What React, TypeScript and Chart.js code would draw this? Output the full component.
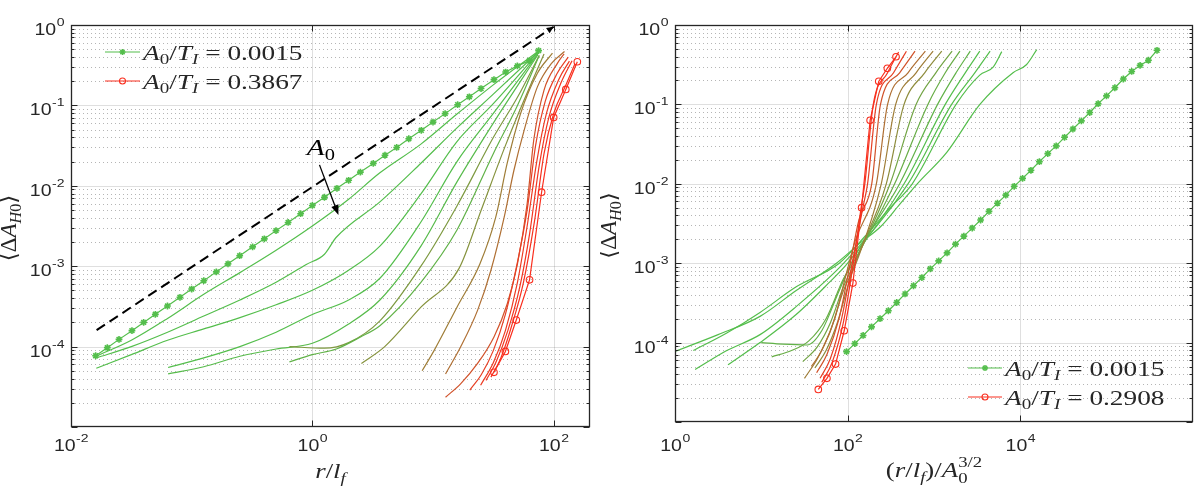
import React, { useEffect, useRef } from "react";
import { Chart, registerables } from "chart.js";

Chart.register(...registerables);

type Pt = [number, number];

/* ---------- A0/TI = 0.0015 (asterisk markers), drawn in both panels ---------- */
const STAR_R = [0.016, 0.02, 0.025, 0.032, 0.04, 0.05, 0.063, 0.08, 0.1, 0.126, 0.16, 0.2, 0.25, 0.32, 0.4, 0.5, 0.63, 0.8, 1.0, 1.26, 1.6, 2.0, 2.5, 3.2, 4.0, 5.0, 6.3, 8.0, 10, 12.6, 16, 20, 25, 32, 40, 50, 63, 75];
const STAR_R_SCALED = [97, 121, 151, 189, 237, 296, 370, 462, 579, 724, 906, 1133, 1417, 1774, 2218, 2773, 3467, 4335, 5433, 6792, 8492, 10620, 13270, 16630, 20800, 26000, 32500, 40640, 50930, 63680, 79620, 99540, 124500, 156000, 195000, 243800, 304800, 383000];
const STAR_DA = [7.7e-5, 9.7e-5, 1.23e-4, 1.58e-4, 2.0e-4, 2.52e-4, 3.2e-4, 4.1e-4, 5.2e-4, 6.6e-4, 8.5e-4, 1.07e-3, 1.35e-3, 1.74e-3, 2.19e-3, 2.77e-3, 3.5e-3, 4.5e-3, 5.7e-3, 7.2e-3, 9.3e-3, 0.0117, 0.0148, 0.019, 0.024, 0.03, 0.0385, 0.049, 0.062, 0.079, 0.102, 0.128, 0.162, 0.209, 0.26, 0.31, 0.36, 0.48];

/* ---------- slope-one guide (left panel) ---------- */
const GUIDE_R = [0.0163, 100];
const GUIDE_DA = [1.6e-4, 0.95];

/* ---------- left panel: <ΔA_H0> against r/l_f, A0 increasing ---------- */
const L02: Pt[] = [[0.0162, 7.6e-5], [0.0316, 1.2e-4], [0.0631, 2.24e-4], [0.126, 4.47e-4], [0.251, 8.32e-4], [0.501, 1.58e-3], [1.0, 3.16e-3], [2.0, 6.8e-3], [3.63, 0.0145], [7.94, 0.033], [15.8, 0.078], [31.6, 0.18], [74, 0.468]];
const L03: Pt[] = [[0.0162, 7.24e-5], [0.0316, 1.0e-4], [0.0631, 1.51e-4], [0.126, 2.4e-4], [0.251, 3.8e-4], [0.501, 6.31e-4], [0.891, 1.05e-3], [1.26, 1.41e-3], [1.58, 2.29e-3], [3.63, 6.31e-3], [7.94, 0.0191], [15.8, 0.0525], [31.6, 0.138], [74, 0.457]];
const L04: Pt[] = [[0.0162, 5.37e-5], [0.0316, 7.94e-5], [0.0631, 1.2e-4], [0.126, 1.66e-4], [0.251, 2.29e-4], [0.501, 3.31e-4], [1.0, 5.01e-4], [2.0, 8.91e-4], [3.63, 1.78e-3], [7.94, 7.94e-3], [15.8, 0.0355], [31.6, 0.105], [74, 0.447]];
const L05: Pt[] = [[0.0638, 5.5e-5], [0.126, 7.24e-5], [0.251, 1.0e-4], [0.501, 1.51e-4], [1.0, 2.51e-4], [2.0, 3.8e-4], [3.63, 7.08e-4], [7.94, 3.55e-3], [15.8, 0.02], [31.6, 0.0794], [74, 0.437]];
const L06: Pt[] = [[0.0638, 4.57e-5], [0.126, 5.62e-5], [0.251, 7.59e-5], [0.501, 9.33e-5], [1.0, 1.1e-4], [2.0, 1.91e-4], [3.63, 3.8e-4], [7.94, 1.78e-3], [15.8, 0.0112], [31.6, 0.0603], [74, 0.427]];
const L07: Pt[] = [[0.646, 1.0e-4], [1.26, 9.55e-5], [2.0, 1.12e-4], [3.63, 2.09e-4], [7.94, 1.0e-3], [15.8, 5.62e-3], [31.6, 0.0398], [50.1, 0.126], [75.9, 0.417]];
const L08: Pt[] = [[0.646, 6.46e-5], [1.0, 7.94e-5], [1.58, 9.33e-5], [2.51, 1.32e-4], [3.63, 1.82e-4], [7.94, 6.31e-4], [15.8, 2.82e-3], [31.6, 0.0251], [50.1, 0.1], [75.9, 0.417]];
const L09: Pt[] = [[2.55, 6.17e-5], [3.98, 1.0e-4], [7.94, 3.09e-4], [16.4, 9.33e-4], [25.1, 5.01e-3], [39.8, 0.0316], [56.2, 0.112], [83.2, 0.437]];
const L10: Pt[] = [[8.13, 5.01e-5], [10.2, 8.91e-5], [15.8, 3.09e-4], [24.5, 1.07e-3], [33.1, 4.07e-3], [41.2, 0.0191], [53.2, 0.0794], [73.3, 0.251], [97.7, 0.447]];
const L11: Pt[] = [[12.7, 4.57e-5], [17.0, 1.0e-4], [23.4, 2.82e-4], [30.2, 8.91e-4], [38.9, 4.07e-3], [46.8, 0.0155], [56.9, 0.049], [73.3, 0.17], [95.5, 0.331], [123, 0.468]];
const L12: Pt[] = [[12.7, 2.34e-5], [17.0, 3.47e-5], [23.4, 6.17e-5], [32.0, 1.32e-4], [41.2, 3.39e-4], [50.1, 1.07e-3], [60.3, 6.03e-3], [68.4, 0.0372], [83.2, 0.155], [107, 0.331], [122, 0.437]];
const L13: Pt[] = [[20.2, 2.88e-5], [25.1, 4.47e-5], [31.6, 8.91e-5], [39.8, 2.51e-4], [50.1, 1.12e-3], [60.3, 5.01e-3], [70.8, 0.0316], [85.1, 0.112], [107, 0.251], [132, 0.398]];
const L14: Pt[] = [[24.8, 3.31e-5], [31.6, 6.31e-5], [39.8, 1.58e-4], [50.1, 6.31e-4], [60.3, 3.16e-3], [72.4, 0.02], [87.1, 0.0794], [110, 0.209], [135, 0.355]];
const L15: Pt[] = [[27.5, 3.8e-5], [33.1, 6.31e-5], [41.7, 1.58e-4], [52.5, 5.62e-4], [63.1, 2.51e-3], [75.9, 0.0178], [91.2, 0.0708], [115, 0.191], [142, 0.36]];
const L16: Pt[] = [[30.2, 4.17e-5], [36.3, 7.08e-5], [44.7, 1.78e-4], [56.2, 6.31e-4], [69.2, 3.55e-3], [83.2, 0.0251], [100, 0.0794], [126, 0.178], [150, 0.33]];
// A0/TI = 0.3867 (circle markers)
const L17: Pt[] = [[32.0, 4.79e-5], [39.8, 8.71e-5], [49.0, 2.14e-4], [63.1, 6.76e-4], [79.4, 8.32e-3], [100, 0.0708], [126, 0.158], [157, 0.349]];

const LEFT_CURVES = [L02, L03, L04, L05, L06, L07, L08, L09, L10, L11, L12, L13, L14, L15, L16];
const LEFT_TONE = [0, 0, 0, 0, 0.02, 0.25, 0.08, 0.3, 0.45, 0.55, 0.75, 0.88, 0.92, 0.95, 0.98];
const LEFT_LEGEND = ["0.0015", "0.3867"];

/* ---------- right panel: <ΔA_H0> against (r/l_f)/A0^(3/2) ---------- */
const R01: Pt[] = [[1.0, 7.76e-5], [3.16, 1.26e-4], [9.66, 2.14e-4], [25.1, 4.5e-4], [74, 1.0e-3], [138, 1.78e-3], [240, 2.88e-3], [400, 5.5e-3], [640, 0.01], [1413, 0.0251], [3400, 0.1], [8222, 0.251], [11750, 0.316], [15490, 0.49]];
const R02: Pt[] = [[1.63, 7.94e-5], [3.98, 1.32e-4], [9.66, 2.4e-4], [25.1, 5.0e-4], [80, 1.0e-3], [160, 2.2e-3], [300, 4.8e-3], [560, 0.01], [1800, 0.1], [3388, 0.234], [4842, 0.295], [6095, 0.462]];
const R03: Pt[] = [[1.71, 4.57e-5], [3.98, 7.94e-5], [9.66, 1.26e-4], [25.1, 2.82e-4], [90, 1.0e-3], [500, 0.01], [1600, 0.1], [2965, 0.25], [4467, 0.468]];
const R04: Pt[] = [[4.11, 5.25e-5], [9.66, 1.0e-4], [25.1, 2.24e-4], [60, 5.6e-4], [100, 1.0e-3], [450, 0.01], [1350, 0.1], [2300, 0.25], [3390, 0.468]];
const R05: Pt[] = [[10, 1.0e-4], [17.8, 9.55e-5], [33.9, 9.33e-5], [50.1, 1.41e-4], [79.4, 4.47e-4], [110, 1.0e-3], [400, 0.01], [1100, 0.1], [1800, 0.25], [2630, 0.468]];
const R06: Pt[] = [[13.2, 6.61e-5], [22.4, 7.94e-5], [35.5, 1.05e-4], [56.2, 2.0e-4], [89.1, 6.31e-4], [115, 1.0e-3], [350, 0.01], [850, 0.1], [1350, 0.25], [1995, 0.468]];
const R07: Pt[] = [[30.2, 5.75e-5], [44.7, 8.91e-5], [63.1, 1.78e-4], [89.1, 5.01e-4], [120, 1.0e-3], [310, 0.01], [620, 0.1], [1050, 0.25], [1620, 0.468]];
const R08: Pt[] = [[41.7, 4.79e-5], [56.2, 7.94e-5], [75.9, 1.78e-4], [100, 5.01e-4], [122, 1.0e-3], [280, 0.01], [450, 0.1], [780, 0.25], [1230, 0.468]];
const R09: Pt[] = [[31.6, 3.55e-5], [44.7, 6.31e-5], [63.1, 1.41e-4], [89.1, 4.47e-4], [125, 1.0e-3], [245, 0.01], [360, 0.1], [620, 0.25], [977, 0.468]];
const R10: Pt[] = [[38, 5.01e-5], [50.1, 7.94e-5], [70.8, 2.0e-4], [95.5, 7.08e-4], [122, 1.9e-3], [215, 0.01], [290, 0.1], [500, 0.25], [794, 0.468]];
const R11: Pt[] = [[43.7, 4.17e-5], [57.5, 7.08e-5], [79.4, 2.0e-4], [105, 8.91e-4], [135, 3.5e-3], [190, 0.01], [240, 0.1], [400, 0.25], [603, 0.468]];
const R12: Pt[] = [[47.9, 3.55e-5], [63.1, 6.31e-5], [85.1, 2.0e-4], [115, 1.12e-3], [150, 5.0e-3], [170, 0.01], [215, 0.1], [340, 0.25], [479, 0.468]];
const R13: Pt[] = [[50.1, 3.16e-5], [66.1, 5.62e-5], [89.1, 1.78e-4], [120, 1.26e-3], [145, 5.5e-3], [158, 0.01], [198, 0.1], [290, 0.25], [389, 0.457]];
// A0/TI = 0.2908 (circle markers)
const R14: Pt[] = [[45.7, 2.57e-5], [57.5, 3.55e-5], [72.4, 5.37e-5], [91.2, 1.41e-4], [115, 5.62e-4], [145, 5.01e-3], [182, 0.0631], [229, 0.195], [288, 0.285], [363, 0.398]];

const RIGHT_CURVES = [R01, R02, R03, R04, R05, R06, R07, R08, R09, R10, R11, R12, R13];
const RIGHT_TONE = [0, 0, 0, 0, 0.08, 0.12, 0.18, 0.35, 0.45, 0.55, 0.75, 0.88, 0.95];
const RIGHT_LEGEND = ["0.0015", "0.2908"];

/* ---------- annotation of the left panel (data units) ---------- */
const A0_ARROW_FROM: Pt = [1.146, 0.0182];
const A0_ARROW_TO: Pt = [1.646, 0.00433];
const A0_LABEL_AT: Pt = [0.9, 0.0242];

/* ---------- styling ---------- */
const INK = "#262626";
const GREEN_RGB = [84, 190, 76];
const RED_RGB = [250, 46, 30];
const tone = (t: number) =>
  `rgb(${GREEN_RGB.map((g, i) => Math.round(g + (RED_RGB[i] - g) * t)).join(",")})`;
const GREEN = tone(0);
const RED = tone(1);

const SANS = '"Liberation Sans", Arial, Helvetica, sans-serif';
const SERIF = '"Liberation Serif", "DejaVu Serif", "DejaVu Sans", serif';
const SX = 1.22; // horizontal text stretch
const LEGEND_SX = 1.3;

type Seg = { t: string; it?: boolean; k?: number; dy?: number; stack?: boolean };

const segFont = (s: Seg, size: number) =>
  `${s.it ? "italic " : ""}${(size * (s.k ?? 1)).toFixed(2)}px ${SERIF}`;

function drawRich(
  ctx: CanvasRenderingContext2D,
  segs: Seg[],
  x: number,
  y: number,
  size: number,
  align: "left" | "center" | "right",
  sx: number
) {
  const placed: { s: Seg; x: number }[] = [];
  let cur = 0;
  let prevStart = 0;
  for (const s of segs) {
    ctx.font = segFont(s, size);
    const w = ctx.measureText(s.t).width * sx;
    const start = s.stack ? prevStart : cur;
    placed.push({ s, x: start });
    if (!s.stack) prevStart = start;
    cur = s.stack ? Math.max(cur, start + w) : start + w;
  }
  const x0 = align === "center" ? x - cur / 2 : align === "right" ? x - cur : x;
  for (const p of placed) {
    ctx.font = segFont(p.s, size);
    ctx.save();
    ctx.translate(x0 + p.x, y + (p.s.dy ?? 0) * size);
    ctx.scale(sx, 1);
    ctx.fillText(p.s.t, 0, 0);
    ctx.restore();
  }
}

function stretched(ctx: CanvasRenderingContext2D, text: string, x: number, y: number, font: string) {
  ctx.font = font;
  ctx.save();
  ctx.translate(x, y);
  ctx.scale(SX, 1);
  ctx.fillText(text, 0, 0);
  ctx.restore();
}

function tickLabel(ctx: CanvasRenderingContext2D, e: number, x: number, baseY: number, align: "right" | "center") {
  const base = "10";
  const sup = String(e);
  const fBase = `16px ${SANS}`;
  const fSup = `11.5px ${SANS}`;
  ctx.font = fBase;
  const w1 = ctx.measureText(base).width * SX;
  ctx.font = fSup;
  const w2 = ctx.measureText(sup).width * SX;
  const left = align === "right" ? x - w1 - w2 : x - (w1 + w2) / 2;
  stretched(ctx, base, left, baseY, fBase);
  stretched(ctx, sup, left + w1 + 0.5, baseY - 9, fSup);
}

function seg(ctx: CanvasRenderingContext2D, x1: number, y1: number, x2: number, y2: number) {
  ctx.beginPath();
  ctx.moveTo(x1, y1);
  ctx.lineTo(x2, y2);
  ctx.stroke();
}

function arrowHead(ctx: CanvasRenderingContext2D, from: number[], to: number[], len: number, half: number) {
  const dx = to[0] - from[0];
  const dy = to[1] - from[1];
  const d = Math.hypot(dx, dy) || 1;
  const ux = dx / d;
  const uy = dy / d;
  const bx = to[0] - ux * len;
  const by = to[1] - uy * len;
  ctx.beginPath();
  ctx.moveTo(to[0], to[1]);
  ctx.lineTo(bx - uy * half, by + ux * half);
  ctx.lineTo(bx + uy * half, by - ux * half);
  ctx.closePath();
  ctx.fill();
}

function starMark(ctx: CanvasRenderingContext2D, x: number, y: number, r: number) {
  const d = r * Math.SQRT1_2;
  seg(ctx, x - r, y, x + r, y);
  seg(ctx, x, y - r, x, y + r);
  seg(ctx, x - d, y - d, x + d, y + d);
  seg(ctx, x - d, y + d, x + d, y - d);
}

const legendSegs = (v: string): Seg[] => [
  { t: "A", it: true },
  { t: "0", k: 0.7, dy: 0.22 },
  { t: "/" },
  { t: "T", it: true },
  { t: "I", it: true, k: 0.7, dy: 0.22 },
  { t: " = " },
  { t: v },
];

const Y_TITLE: Seg[] = [
  { t: "⟨" },
  { t: "Δ" },
  { t: "A", it: true },
  { t: "H", it: true, k: 0.7, dy: 0.2 },
  { t: "0", k: 0.7, dy: 0.2 },
  { t: "⟩" },
];

const X_TITLE_LEFT: Seg[] = [
  { t: "r", it: true },
  { t: "/" },
  { t: "l", it: true },
  { t: "f", it: true, k: 0.7, dy: 0.22 },
];

const X_TITLE_RIGHT: Seg[] = [
  { t: "(" },
  { t: "r", it: true },
  { t: "/" },
  { t: "l", it: true },
  { t: "f", it: true, k: 0.7, dy: 0.22 },
  { t: ")" },
  { t: "/" },
  { t: "A", it: true },
  { t: "0", k: 0.7, dy: 0.25 },
  { t: "3/2", k: 0.7, dy: -0.45, stack: true },
];

interface LegendRow {
  y: number;
  text: string;
  color: string;
  marker: "star" | "circle";
}

interface PanelSpec {
  pad: { left: number; right: number; top: number; bottom: number };
  xMin: number;
  xMax: number;
  xTicks: number[];
  xGrid: number[];
  xTickBaseline: number;
  xTitle: Seg[];
  xTitleBaseline: number;
  yTitleX: number;
  legendX0: number;
  legendX1: number;
  legend: LegendRow[];
  annotate?: (chart: any) => void;
}

function makeFramePlugin(spec: PanelSpec) {
  return {
    id: "frame",
    beforeDatasetsDraw(chart: any) {
      const { ctx, chartArea: a } = chart;
      const xs = chart.scales.x;
      const ys = chart.scales.y;
      ctx.save();
      ctx.beginPath();
      ctx.rect(a.left, a.top, a.right - a.left, a.bottom - a.top);
      ctx.clip();
      ctx.lineWidth = 1;
      ctx.strokeStyle = "rgba(38,38,38,0.34)";
      ctx.setLineDash([1, 3]);
      for (let e = -5; e < 0; e++) {
        for (let k = 2; k <= 9; k++) {
          const py = Math.round(ys.getPixelForValue(k * Math.pow(10, e))) + 0.5;
          seg(ctx, a.left, py, a.right, py);
        }
      }
      ctx.setLineDash([]);
      ctx.strokeStyle = "rgba(38,38,38,0.15)";
      for (let e = -4; e < 0; e++) {
        const py = Math.round(ys.getPixelForValue(Math.pow(10, e))) + 0.5;
        seg(ctx, a.left, py, a.right, py);
      }
      for (const e of spec.xGrid) {
        const px = Math.round(xs.getPixelForValue(Math.pow(10, e))) + 0.5;
        seg(ctx, px, a.top, px, a.bottom);
      }
      ctx.restore();
    },
    afterDatasetsDraw(chart: any) {
      const { ctx, chartArea: a } = chart;
      const xs = chart.scales.x;
      const ys = chart.scales.y;
      ctx.save();
      ctx.setLineDash([]);
      ctx.strokeStyle = INK;
      ctx.fillStyle = INK;
      ctx.lineWidth = 1;
      const L = a.left + 0.5;
      const R = a.right - 0.5;
      const T = a.top + 0.5;
      const B = a.bottom - 0.5;
      // y ticks, inside, on both sides
      for (let e = -5; e <= 0; e++) {
        const py = Math.round(ys.getPixelForValue(Math.pow(10, e))) + 0.5;
        seg(ctx, L, py, L + 6, py);
        seg(ctx, R, py, R - 6, py);
        if (e < 0) {
          for (let k = 2; k <= 9; k++) {
            const pm = Math.round(ys.getPixelForValue(k * Math.pow(10, e))) + 0.5;
            seg(ctx, L, pm, L + 3, pm);
            seg(ctx, R, pm, R - 3, pm);
          }
        }
      }
      // x ticks, inside, bottom and top
      for (const e of spec.xTicks) {
        const px = Math.round(xs.getPixelForValue(Math.pow(10, e))) + 0.5;
        seg(ctx, px, B, px, B - 6);
        seg(ctx, px, T, px, T + 6);
      }
      // box
      ctx.lineWidth = 1.3;
      ctx.strokeRect(L, T, R - L, B - T);

      // tick labels
      ctx.textBaseline = "alphabetic";
      ctx.textAlign = "left";
      for (let e = 0; e >= -4; e--) {
        const py = ys.getPixelForValue(Math.pow(10, e));
        tickLabel(ctx, e, a.left - 7, py + 10, "right");
      }
      for (const e of spec.xTicks) {
        const px = xs.getPixelForValue(Math.pow(10, e));
        tickLabel(ctx, e, px, spec.xTickBaseline, "center");
      }

      // axis titles
      drawRich(ctx, spec.xTitle, (a.left + a.right) / 2, spec.xTitleBaseline, 22, "center", SX);
      ctx.save();
      ctx.translate(spec.yTitleX, (a.top + a.bottom) / 2 + 2);
      ctx.rotate(-Math.PI / 2);
      drawRich(ctx, Y_TITLE, 0, 0, 23, "center", 1);
      ctx.restore();

      // legend
      for (const row of spec.legend) {
        ctx.strokeStyle = row.color;
        ctx.lineWidth = 1.2;
        seg(ctx, spec.legendX0, row.y, spec.legendX1, row.y);
        const mx = (spec.legendX0 + spec.legendX1) / 2;
        if (row.marker === "star") {
          ctx.lineWidth = 1.5;
          starMark(ctx, mx, row.y, 3);
        } else {
          ctx.lineWidth = 1.1;
          ctx.beginPath();
          ctx.arc(mx, row.y, 3, 0, Math.PI * 2);
          ctx.stroke();
        }
        ctx.fillStyle = INK;
        drawRich(ctx, legendSegs(row.text), spec.legendX1 + 3, row.y + 7.5, 21, "left", LEGEND_SX);
      }

      if (spec.annotate) spec.annotate(chart);
      ctx.restore();
    },
  };
}

const lineDs = (pts: { x: number; y: number }[], color: string) => ({
  data: pts,
  borderColor: color,
  backgroundColor: color,
  borderWidth: 1.2,
  pointRadius: 0,
  pointHoverRadius: 0,
  fill: false,
  tension: 0,
});

const toXY = (pts: Pt[]) => pts.map(([x, y]) => ({ x, y }));

const smoothDs = (pts: Pt[], color: string) => ({
  ...lineDs(toXY(pts), color),
  cubicInterpolationMode: "monotone",
});

function starDataset(xs: number[]) {
  return {
    ...lineDs(xs.map((x, i) => ({ x, y: STAR_DA[i] })), GREEN),
    pointStyle: "star",
    pointRadius: 3.4,
    pointBorderWidth: 1.6,
    pointBorderColor: GREEN,
    pointBackgroundColor: GREEN,
    order: 0,
  };
}

function circleDataset(pts: Pt[]) {
  return {
    ...lineDs(toXY(pts), RED),
    pointStyle: "circle",
    pointRadius: 3.3,
    pointBorderWidth: 1.1,
    pointBorderColor: RED,
    pointBackgroundColor: "rgba(255,255,255,0)",
    order: -50,
  };
}

function leftDatasets() {
  const ds: any[] = [starDataset(STAR_R)];
  LEFT_CURVES.forEach((c, i) => ds.push({ ...smoothDs(c, tone(LEFT_TONE[i])), order: -(i + 1) }));
  ds.push(circleDataset(L17));
  ds.push({
    ...lineDs(GUIDE_R.map((x, i) => ({ x, y: GUIDE_DA[i] })), "#000"),
    borderWidth: 2,
    borderDash: [10, 5.5],
    order: -100,
  });
  return ds;
}

function rightDatasets() {
  const ds: any[] = [starDataset(STAR_R_SCALED)];
  RIGHT_CURVES.forEach((c, i) => ds.push({ ...smoothDs(c, tone(RIGHT_TONE[i])), order: -(i + 1) }));
  ds.push(circleDataset(R14));
  return ds;
}

function annotateLeft(chart: any) {
  const { ctx } = chart;
  const xs = chart.scales.x;
  const ys = chart.scales.y;
  const px = (p: number[]) => [xs.getPixelForValue(p[0]), ys.getPixelForValue(p[1])];
  ctx.fillStyle = "#000";
  ctx.strokeStyle = "#000";
  // head of the slope-one guide
  const g0 = px([GUIDE_R[0], GUIDE_DA[0]]);
  const g1 = px([GUIDE_R[1], GUIDE_DA[1]]);
  arrowHead(ctx, g0, g1, 7, 3.2);
  // A0 arrow
  const a = px(A0_ARROW_FROM);
  const b = px(A0_ARROW_TO);
  const d = Math.hypot(b[0] - a[0], b[1] - a[1]);
  const ux = (b[0] - a[0]) / d;
  const uy = (b[1] - a[1]) / d;
  ctx.lineWidth = 1.3;
  seg(ctx, a[0], a[1], b[0] - ux * 6, b[1] - uy * 6);
  arrowHead(ctx, a, b, 10, 3.8);
  const t = px(A0_LABEL_AT);
  drawRich(ctx, [{ t: "A", it: true }, { t: "0", k: 0.7, dy: 0.22 }], t[0], t[1], 24, "left", SX);
}

const LEFT_SPEC: PanelSpec = {
  pad: { left: 71, right: 10, top: 25, bottom: 63 },
  xMin: 0.01,
  xMax: 200,
  xTicks: [-2, 0, 2],
  xGrid: [0, 2],
  xTickBaseline: 451,
  xTitle: X_TITLE_LEFT,
  xTitleBaseline: 478,
  yTitleX: 16,
  legendX0: 105,
  legendX1: 140,
  legend: [
    { y: 52, text: LEFT_LEGEND[0], color: GREEN, marker: "star" },
    { y: 81, text: LEFT_LEGEND[1], color: RED, marker: "circle" },
  ],
  annotate: annotateLeft,
};

const RIGHT_SPEC: PanelSpec = {
  pad: { left: 75, right: 8, top: 25, bottom: 68 },
  xMin: 1,
  xMax: 1e6,
  xTicks: [0, 2, 4],
  xGrid: [2, 4],
  xTickBaseline: 451,
  xTitle: X_TITLE_RIGHT,
  xTitleBaseline: 477,
  yTitleX: 16,
  legendX0: 368,
  legendX1: 402,
  legend: [
    { y: 368, text: RIGHT_LEGEND[0], color: GREEN, marker: "star" },
    { y: 397, text: RIGHT_LEGEND[1], color: RED, marker: "circle" },
  ],
};

function buildConfig(datasets: any[], spec: PanelSpec): any {
  return {
    type: "line",
    data: { datasets },
    options: {
      responsive: false,
      animation: false,
      events: [],
      layout: { padding: spec.pad },
      scales: {
        x: { type: "logarithmic", min: spec.xMin, max: spec.xMax, display: false },
        y: { type: "logarithmic", min: 1e-5, max: 1, display: false },
      },
      plugins: { legend: { display: false }, tooltip: { enabled: false } },
    },
    plugins: [makeFramePlugin(spec)],
  };
}

export default function App() {
  const leftRef = useRef<HTMLCanvasElement>(null);
  const rightRef = useRef<HTMLCanvasElement>(null);

  useEffect(() => {
    const left = new Chart(leftRef.current as HTMLCanvasElement, buildConfig(leftDatasets(), LEFT_SPEC));
    const right = new Chart(rightRef.current as HTMLCanvasElement, buildConfig(rightDatasets(), RIGHT_SPEC));
    let alive = true;
    // redraw once the canvas fonts are available
    Promise.all([
      document.fonts.load(`16px ${SANS}`),
      document.fonts.load(`21px ${SERIF}`),
      document.fonts.load(`italic 21px ${SERIF}`),
    ])
      .catch(() => undefined)
      .then(() => {
        if (!alive) return;
        left.draw();
        right.draw();
      });
    return () => {
      alive = false;
      left.destroy();
      right.destroy();
    };
  }, []);

  return (
    <div style={{ position: "absolute", left: 0, top: 0, width: 1201, height: 490, background: "#fff", overflow: "hidden" }}>
      <canvas ref={leftRef} width={600} height={490} style={{ position: "absolute", left: 0, top: 0 }} />
      <canvas ref={rightRef} width={601} height={490} style={{ position: "absolute", left: 600, top: 0 }} />
    </div>
  );
}
